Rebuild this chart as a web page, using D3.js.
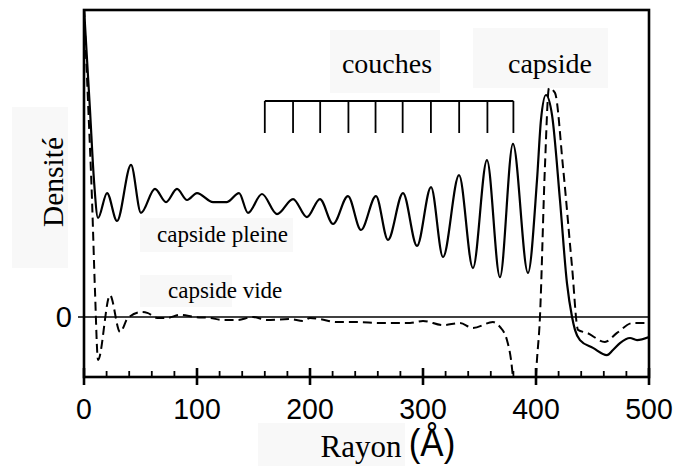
<!DOCTYPE html>
<html><head><meta charset="utf-8">
<script src="https://cdn.jsdelivr.net/npm/d3@7"></script>
<style>
html,body{margin:0;padding:0;background:#fff;}
svg{display:block;}
</style></head>
<body>
<svg id="chart" width="676" height="466"></svg>
<script>
// ---- data (radius in Å, density in arbitrary units) ----
const pleineR = [0,5.3,8.8,12.4,20.4,29.2,41.6,50.4,62.8,72.6,82.3,91.2,100,114.2,126.5,137.2,145.1,157.5,170.8,185,197.3,208.8,220.4,233.6,245.1,258.4,269,282.3,294.7,307.1,317.7,331.9,344.2,356.6,368.1,379.6,392.9,400.9,404.4,408.8,414.2,421.2,427.4,431.9,434.5,438.9,450.4,462.8,468.1,474.3,483.2,489.4,500];
const pleineD = [10.3,6.9,4.57,3.3,4.13,3.2,5.07,3.47,4.27,3.83,4.27,3.9,4.13,3.83,3.83,4.13,3.47,4.1,3.43,3.93,3.33,3.93,3.1,4.03,2.9,4.03,2.57,4.13,2.37,4.33,2.0,4.73,1.63,5.23,1.33,5.77,1.47,4.57,6.57,7.4,6.73,3.9,1.13,0,-0.43,-0.77,-1.03,-1.27,-1.1,-0.87,-0.7,-0.77,-0.67];
const videR = [0,3.5,7.1,9.7,12.4,23,31.9,38.9,51.3,56.6,64.6,73.5,85,98.2,111.5,123,135.4,149.6,161.9,182.3,193.8,200,208.8,223.9,241.6,261.9,288.5,300,317.7,332.7,344.2,361.9,368.1,374.3,377.9,379.6,384.1,391.2,398.2,400,403.5,407.9,411.5,416.8,423.9,431.9,437.2,445.1,461,471.7,485.8,500];
const videD = [10.3,7.23,3.9,0.9,-1.43,0.73,-0.5,-0.03,0.17,0.13,-0.03,-0.03,0.07,0,-0.03,-0.1,-0.1,0,-0.1,-0.07,-0.13,-0.03,-0.07,-0.17,-0.17,-0.2,-0.2,-0.13,-0.27,-0.2,-0.37,-0.17,-0.33,-0.77,-1.43,-2,-3.77,-4.77,-3.77,-2,0,5,7.63,7.47,5,1.67,-0.43,-0.53,-0.83,-0.53,-0.2,-0.2];
const couchesR = [160,185,209,234,258,282,307,332,357,380];
const xTicks = [0,100,200,300,400,500];
const xMinorTicks = [20,40,60,80,120,140,160,180,220,240,260,280,320,340,360,380,420,440,460,480];
const labels = {x:"Rayon", unit:"(Å)", y:"Densité", zero:"0", couches:"couches", capside:"capside", pleine:"capside pleine", vide:"capside vide"};

// ---- layout ----
const svg = d3.select("#chart");
const L = 84, R = 649, T = 10, B = 377;
const x = d3.scaleLinear().domain([0,500]).range([L,R]);
const y = d3.scaleLinear().domain([-2,10.233]).range([B,T]);
const serif = "'Liberation Serif','Times New Roman',serif";
const sans = "'Liberation Sans',Arial,sans-serif";
const boxFill = "#f8f8f8";

// faint label boxes
const boxes = [[330,30,110,63],[473,28,135,60],[12,107,56,161],[140,218,153,34],[140,275,92,32],[258,423,147,43]];
svg.selectAll("rect.box").data(boxes).enter().append("rect")
  .attr("x",d=>d[0]).attr("y",d=>d[1]).attr("width",d=>d[2]).attr("height",d=>d[3])
  .attr("fill",boxFill);

svg.append("clipPath").attr("id","clip").append("rect")
  .attr("x",L).attr("y",T).attr("width",R-L).attr("height",B-T);

// zero line
svg.append("line").attr("x1",L-6).attr("x2",R).attr("y1",y(0)).attr("y2",y(0))
  .attr("stroke","#000").attr("stroke-width",1.6);

const line = d3.line().x(d=>x(d[0])).y(d=>y(d[1])).curve(d3.curveMonotoneX);
const g = svg.append("g").attr("clip-path","url(#clip)");
g.append("path").datum(d3.zip(pleineR,pleineD)).attr("d",line)
  .attr("fill","none").attr("stroke","#000").attr("stroke-width",2.2);
g.append("path").datum(d3.zip(videR,videD)).attr("d",line)
  .attr("fill","none").attr("stroke","#000").attr("stroke-width",2)
  .attr("stroke-dasharray","9,5");

// couches bracket
const bTop = 101, bBot = 133;
svg.append("line").attr("x1",x(couchesR[0])).attr("x2",x(couchesR[couchesR.length-1]))
  .attr("y1",bTop).attr("y2",bTop).attr("stroke","#000").attr("stroke-width",1.8);
svg.selectAll("line.couche").data(couchesR).enter().append("line")
  .attr("x1",d=>x(d)).attr("x2",d=>x(d)).attr("y1",bTop).attr("y2",bBot)
  .attr("stroke","#000").attr("stroke-width",1.8);

// frame
svg.append("rect").attr("x",L).attr("y",T).attr("width",R-L).attr("height",B-T)
  .attr("fill","none").attr("stroke","#000").attr("stroke-width",2.6);

// x axis ticks
svg.selectAll("line.minor").data(xMinorTicks).enter().append("line")
  .attr("x1",d=>x(d)).attr("x2",d=>x(d)).attr("y1",B-6).attr("y2",B)
  .attr("stroke","#000").attr("stroke-width",1.8);
svg.selectAll("line.major").data(xTicks).enter().append("line")
  .attr("x1",d=>x(d)).attr("x2",d=>x(d)).attr("y1",B-9).attr("y2",B+8)
  .attr("stroke","#000").attr("stroke-width",2.6);
svg.selectAll("text.xt").data(xTicks).enter().append("text")
  .attr("x",d=>x(d)).attr("y",419).attr("text-anchor","middle")
  .attr("font-family",sans).attr("font-size",30)
  .attr("transform",d=>`translate(${x(d)},0) scale(0.95,1) translate(${-x(d)},0)`)
  .text(d=>d);

// texts
svg.append("text").attr("x",72).attr("y",y(0)+10).attr("text-anchor","end")
  .attr("font-family",sans).attr("font-size",29).text(labels.zero);
svg.append("text").attr("x",361).attr("y",457).attr("text-anchor","middle")
  .attr("font-family",serif).attr("font-size",31).text(labels.x);
svg.append("text").attr("x",432).attr("y",456).attr("text-anchor","middle")
  .attr("font-family",sans).attr("font-size",38)
  .attr("transform","translate(432,0) scale(0.92,1) translate(-432,0)").text(labels.unit);
svg.append("text").attr("transform","translate(63,182) rotate(-90)").attr("text-anchor","middle")
  .attr("font-family",serif).attr("font-size",29.5).text(labels.y);
svg.append("text").attr("x",387).attr("y",73).attr("text-anchor","middle")
  .attr("font-family",serif).attr("font-size",28).text(labels.couches);
svg.append("text").attr("x",550).attr("y",73).attr("text-anchor","middle")
  .attr("font-family",serif).attr("font-size",28).text(labels.capside);
svg.append("text").attr("x",157).attr("y",242)
  .attr("font-family",serif).attr("font-size",23).text(labels.pleine);
svg.append("text").attr("x",168).attr("y",298)
  .attr("font-family",serif).attr("font-size",23).text(labels.vide);
</script>
</body></html>
